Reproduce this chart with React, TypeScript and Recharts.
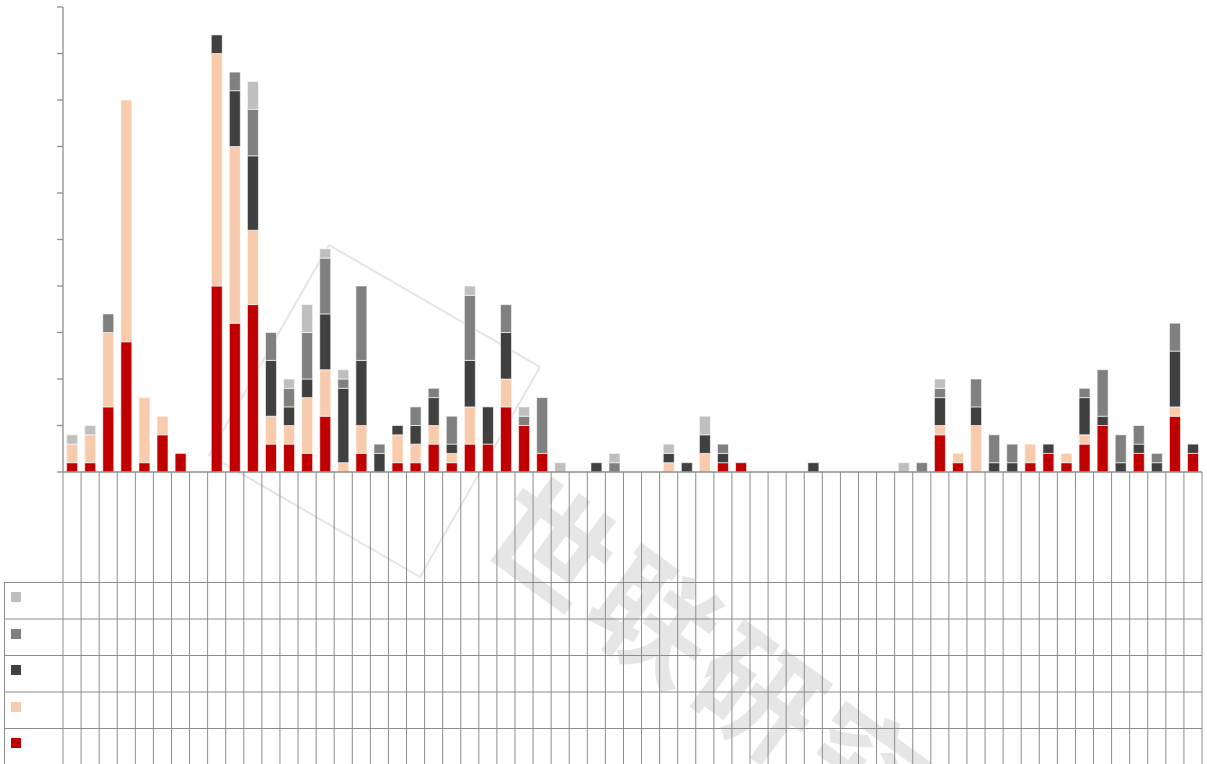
import React from "react";
import { BarChart, Bar, XAxis, YAxis, Legend, Customized } from "recharts";

// 63 columns, no labels printed in the source picture
const categories = Array.from({ length: 63 }, (_, i) => `${i + 1}`);

const redValues = [
  1, 1, 7, 14, 1, 4, 2, 0, 20, 16, 18, 3, 3, 2, 6, 0, 2, 0, 1, 1, 3, 1, 3, 3, 7, 5, 2, 0, 0, 0, 0, 0,
  0, 0, 0, 0, 1, 1, 0, 0, 0, 0, 0, 0, 0, 0, 0, 0, 4, 1, 0, 0, 0, 1, 2, 1, 3, 5, 0, 2, 0, 6, 2,
];
const peachValues = [
  2, 3, 8, 26, 7, 2, 0, 0, 25, 19, 8, 3, 2, 6, 5, 1, 3, 0, 3, 2, 2, 1, 4, 0, 3, 0, 0, 0, 0, 0, 0, 0,
  0, 1, 0, 2, 0, 0, 0, 0, 0, 0, 0, 0, 0, 0, 0, 0, 1, 1, 5, 0, 0, 2, 0, 1, 1, 0, 0, 0, 0, 1, 0,
];
const darkValues = [
  0, 0, 0, 0, 0, 0, 0, 0, 2, 6, 8, 6, 2, 2, 6, 8, 7, 2, 1, 2, 3, 1, 5, 4, 5, 0, 0, 0, 0, 1, 0, 0,
  0, 1, 1, 2, 1, 0, 0, 0, 0, 1, 0, 0, 0, 0, 0, 0, 3, 0, 2, 1, 1, 0, 1, 0, 4, 1, 1, 1, 1, 6, 1,
];
const midValues = [
  0, 0, 2, 0, 0, 0, 0, 0, 0, 2, 5, 3, 2, 5, 6, 1, 8, 1, 0, 2, 1, 3, 7, 0, 3, 1, 6, 0, 0, 0, 1, 0,
  0, 0, 0, 0, 1, 0, 0, 0, 0, 0, 0, 0, 0, 0, 0, 1, 1, 0, 3, 3, 2, 0, 0, 0, 1, 5, 3, 2, 1, 3, 0,
];
const lightValues = [
  1, 1, 0, 0, 0, 0, 0, 0, 0, 0, 3, 0, 1, 3, 1, 1, 0, 0, 0, 0, 0, 0, 1, 0, 0, 1, 0, 1, 0, 0, 1, 0,
  0, 1, 0, 2, 0, 0, 0, 0, 0, 0, 0, 0, 0, 0, 1, 0, 1, 0, 0, 0, 0, 0, 0, 0, 0, 0, 0, 0, 0, 0, 0,
];

const yTicks = [0, 5, 10, 15, 20, 25, 30, 35, 40, 45, 50];

const watermarkChars = ["世", "联", "研", "究"];

const seriesDefs = [
  { key: "s1", color: "#C00000", values: redValues },
  { key: "s2", color: "#F8CBAD", values: peachValues },
  { key: "s3", color: "#404040", values: darkValues },
  { key: "s4", color: "#808080", values: midValues },
  { key: "s5", color: "#BFBFBF", values: lightValues },
];

const data = categories.map((name, i) => {
  const row: Record<string, any> = { name };
  seriesDefs.forEach((s) => (row[s.key] = s.values[i]));
  return row;
});

const W = 1207;
const H = 764;
const LINE = "#8c8c8c";
const TABLE_LEFT = 4;
const TABLE_RIGHT = 1202;
const ROW_Y = [582.5, 619, 655.5, 692, 728.5];
const Y_TICK = 6;

// vertical table lines, one at each category boundary
function GridTick(props: any) {
  const { x, y, payload, index } = props;
  const half = payload?.offset || 9.04;
  const last = index === categories.length - 1;
  return (
    <g>
      <line x1={x - half} x2={x - half} y1={y} y2={H} stroke={LINE} strokeWidth={1} />
      {last && <line x1={x + half} x2={x + half} y1={y} y2={H} stroke={LINE} strokeWidth={1} />}
    </g>
  );
}

// y ticks: short marks only, no labels
function MarkTick(props: any) {
  const { x, y } = props;
  return <line x1={x} x2={x + Y_TICK} y1={y} y2={y} stroke={LINE} strokeWidth={1.3} />;
}

function TableRows() {
  return (
    <g>
      {ROW_Y.map((y) => (
        <line key={y} x1={TABLE_LEFT} x2={TABLE_RIGHT} y1={y} y2={y} stroke={LINE} strokeWidth={1} />
      ))}
      <line x1={TABLE_LEFT + 0.5} x2={TABLE_LEFT + 0.5} y1={ROW_Y[0]} y2={H} stroke={LINE} strokeWidth={1} />
    </g>
  );
}

function LegendColumn(props: any) {
  const payload = props.payload || [];
  const items = seriesDefs
    .slice()
    .reverse()
    .map((s) => payload.find((p: any) => p.dataKey === s.key) || { color: s.color, dataKey: s.key });
  return (
    <div style={{ position: "relative", width: 59, height: 182 }}>
      {items.map((item: any, i: number) => (
        <div
          key={item.dataKey}
          style={{
            position: "absolute",
            left: 7,
            top: 10 + i * 36.5,
            width: 10,
            height: 10,
            background: item.color,
          }}
        />
      ))}
    </div>
  );
}

function Watermark() {
  const step = 128;
  const ang = (36 * Math.PI) / 180;
  return (
    <svg width={W} height={H} style={{ position: "absolute", left: 0, top: 0 }}>
      <polygon
        points="329,245 540,367 420,577 209,455"
        fill="none"
        stroke="#e4e4e4"
        strokeWidth={2}
      />
      {watermarkChars.map((ch, i) => {
        const cx = 556 + i * step * Math.cos(ang);
        const cy = 537 + i * step * Math.sin(ang);
        return (
          <text
            key={ch}
            x={cx}
            y={cy}
            transform={`rotate(36 ${cx} ${cy})`}
            textAnchor="middle"
            dominantBaseline="central"
            fontFamily="'Noto Sans CJK SC'"
            fontWeight={700}
            fontSize={122}
            fill="#e6e6e6"
          >
            {ch}
          </text>
        );
      })}
    </svg>
  );
}

export default function App() {
  return (
    <div style={{ position: "absolute", left: 0, top: 0, width: W, height: H, overflow: "hidden" }}>
      <Watermark />
      <div style={{ position: "absolute", left: 0, top: 0 }}>
        <BarChart
          width={W}
          height={H}
          data={data}
          margin={{ top: 7, right: 5, left: 0, bottom: 0 }}
          barCategoryGap="20%"
        >
          <Customized component={<TableRows />} />
          <XAxis
            dataKey="name"
            height={H - 472}
            interval={0}
            tickLine={false}
            tickSize={0}
            tickMargin={0}
            axisLine={{ stroke: LINE, strokeWidth: 1.3 }}
            tick={<GridTick />}
          />
          <YAxis
            width={63}
            domain={[0, 50]}
            ticks={yTicks}
            interval={0}
            tickSize={Y_TICK}
            tickMargin={0}
            tickLine={false}
            tick={<MarkTick />}
            axisLine={{ stroke: LINE, strokeWidth: 1.3 }}
          />
          <Legend
            layout="vertical"
            align="center"
            verticalAlign="middle"
            wrapperStyle={{ left: TABLE_LEFT, top: 582, width: 59, height: 182 }}
            content={<LegendColumn />}
          />
          {seriesDefs.map((s) => (
            <Bar
              key={s.key}
              dataKey={s.key}
              stackId="total"
              fill={s.color}
              stroke="#ffffff"
              strokeWidth={0.6}
              isAnimationActive={false}
            />
          ))}
        </BarChart>
      </div>
    </div>
  );
}
